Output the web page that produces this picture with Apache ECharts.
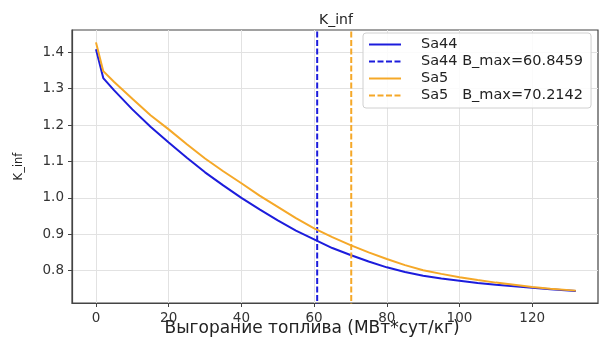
<!DOCTYPE html>
<html>
<head>
<meta charset="utf-8">
<script src="https://cdn.jsdelivr.net/npm/echarts@6/dist/echarts.min.js"></script>
<style>
  html, body { margin: 0; padding: 0; background: #fff; }
  #chart { width: 605px; height: 338px; }
</style>
</head>
<body>
<div id="chart"></div>
<script>
// burnup points, MWd/kg
const burnup = [0, 2, 5, 10, 15, 20, 25, 30, 35, 40, 45, 50, 55, 60, 65, 70, 75, 80, 85, 90, 95, 100, 105, 110, 115, 120, 125, 132];
const kinfSa44 = [1.408, 1.329, 1.295, 1.243, 1.195, 1.152, 1.110, 1.070, 1.034, 1.000, 0.968, 0.938, 0.910, 0.886, 0.862, 0.843, 0.825, 0.809, 0.796, 0.786, 0.778, 0.772, 0.766, 0.761, 0.757, 0.753, 0.749, 0.744];
const kinfSa5 = [1.427, 1.348, 1.318, 1.272, 1.227, 1.188, 1.147, 1.108, 1.073, 1.040, 1.006, 0.975, 0.944, 0.916, 0.892, 0.870, 0.850, 0.832, 0.815, 0.801, 0.791, 0.782, 0.774, 0.767, 0.761, 0.755, 0.750, 0.745];
const bmaxSa44 = 60.8459;
const bmaxSa5 = 70.2142;
const xTicks = [0, 20, 40, 60, 80, 100, 120];
const yTicks = [0.8, 0.9, 1.0, 1.1, 1.2, 1.3, 1.4];

const BLUE = "#1c1cdc";
const ORANGE = "#f5a828";
const FONT = "DejaVu Sans";

const chart = echarts.init(document.getElementById("chart"), null, { renderer: "canvas" });

const pairs = (xs, ys) => xs.map((x, i) => [x, ys[i]]);
const vline = (x) => [[x, 0.6], [x, 1.6]];

chart.setOption({
  animation: false,
  textStyle: { fontFamily: FONT },
  title: {
    text: "K_inf",
    left: 314,
    top: 8,
    textStyle: { fontSize: 14, fontWeight: "normal", color: "#222", fontFamily: FONT },
  },
  grid: {
    left: 72, right: 7, top: 30, bottom: 35,
    containLabel: false, outerBoundsMode: "none",
    show: true, borderColor: "#444", borderWidth: 1.2, backgroundColor: "#fff",
  },
  legend: {
    orient: "vertical",
    left: 363,
    top: 33,
    padding: [4, 8, 5, 5],
    itemWidth: 32,
    itemHeight: 10,
    itemGap: 2,
    itemStyle: { opacity: 0 },
    backgroundColor: "rgba(255,255,255,0.85)",
    borderColor: "#d0d0d0",
    borderWidth: 1,
    borderRadius: 3,
    textStyle: { fontSize: 14.5, color: "#222", lineHeight: 13, padding: [0, 0, 0, 15], fontFamily: FONT },
    data: ["Sa44", "Sa44 B_max=60.8459", "Sa5", "Sa5   B_max=70.2142"],
  },
  xAxis: {
    type: "value",
    min: -6.6,
    max: 138.1,
    name: "Выгорание топлива (МВт*сут/кг)",
    nameLocation: "middle",
    nameGap: 17,
    nameMoveOverlap: false,
    nameTextStyle: { fontSize: 17, color: "#222", padding: [0, 46, 0, 0], verticalAlign: "top" },
    axisLine: { onZero: false, lineStyle: { color: "#444", width: 1.2 } },
    axisTick: { show: true, inside: false, length: 4, customValues: xTicks, lineStyle: { color: "#444" } },
    axisLabel: { customValues: xTicks, fontSize: 13.5, color: "#333", margin: 8 },
    splitLine: { show: true, lineStyle: { color: "#e2e2e2", width: 1 } },
  },
  yAxis: {
    type: "value",
    min: 0.711,
    max: 1.461,
    name: "K_inf",
    nameLocation: "middle",
    nameGap: 47,
    nameRotate: 90,
    nameMoveOverlap: false,
    nameTextStyle: { fontSize: 11.5, color: "#222" },
    axisLine: { show: true, onZero: false, lineStyle: { color: "#444", width: 1.2 } },
    axisTick: { show: true, inside: false, length: 4, customValues: yTicks, lineStyle: { color: "#444" } },
    axisLabel: { customValues: yTicks, fontSize: 13.5, color: "#333", margin: 8, formatter: (v) => v.toFixed(1) },
    splitLine: { show: true, lineStyle: { color: "#e2e2e2", width: 1 } },
  },
  series: [
    {
      name: "Sa44", type: "line", data: pairs(burnup, kinfSa44),
      symbol: "none", showSymbol: false, lineStyle: { color: BLUE, width: 2 }, itemStyle: { color: BLUE },
    },
    {
      name: "Sa44 B_max=60.8459", type: "line", data: vline(bmaxSa44), clip: true,
      symbol: "none", showSymbol: false, lineStyle: { color: BLUE, width: 2, type: [6, 2.5] }, itemStyle: { color: BLUE },
    },
    {
      name: "Sa5", type: "line", data: pairs(burnup, kinfSa5),
      symbol: "none", showSymbol: false, lineStyle: { color: ORANGE, width: 2 }, itemStyle: { color: ORANGE },
    },
    {
      name: "Sa5   B_max=70.2142", type: "line", data: vline(bmaxSa5), clip: true,
      symbol: "none", showSymbol: false, lineStyle: { color: ORANGE, width: 2, type: [6, 2.5] }, itemStyle: { color: ORANGE },
    },
  ],
});
</script>
</body>
</html>
